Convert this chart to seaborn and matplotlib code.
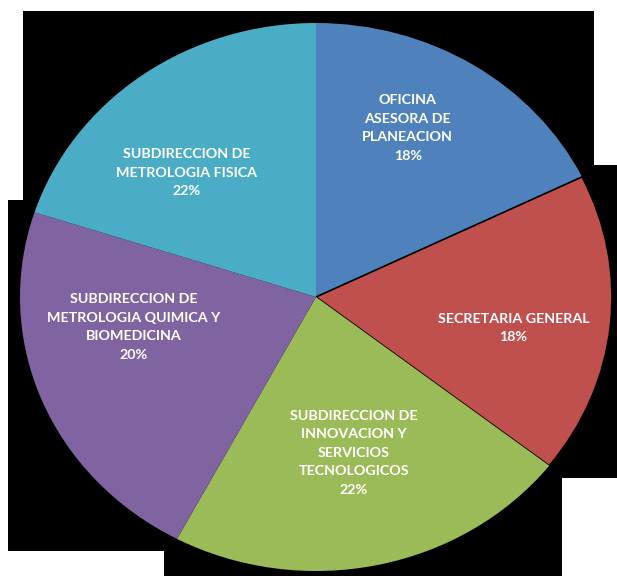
import numpy as np
import matplotlib
matplotlib.use("Agg")
import matplotlib.pyplot as plt
import seaborn as sns
from matplotlib.patches import Rectangle

areas = ["OFICINA\nASESORA DE\nPLANEACION",
         "SECRETARIA GENERAL",
         "SUBDIRECCION DE\nINNOVACION Y\nSERVICIOS\nTECNOLOGICOS",
         "SUBDIRECCION DE\nMETROLOGIA QUIMICA Y\nBIOMEDICINA",
         "SUBDIRECCION DE\nMETROLOGIA FISICA"]
counts = [8, 8, 10, 10, 9]
# percentages as printed on the chart
pct_labels = ["18%", "18%", "22%", "20%", "22%"]

colors = sns.color_palette(["#4F81BD", "#C0504D", "#9BBB59", "#8064A2", "#4BACC6"])

# label centres inside the (elliptic) pie, unit radius
label_pos = [(0.31, 0.617), (0.667, -0.113), (0.127, -0.569),
             (-0.615, -0.109), (-0.438, 0.453)]

sns.set_style("white")
plt.rcParams["font.family"] = ["Lato", "DejaVu Sans"]

W, H = 617, 576
fig = plt.figure(figsize=(W / 100, H / 100), dpi=100)
fig.patch.set_facecolor("white")

# black backdrop made of a few overlapping blocks (pixel coords, top-left origin)
blocks = [(23, 11, 594, 165), (23, 165, 617, 200), (8, 200, 617, 478),
          (8, 478, 562, 551), (164, 551, 562, 576)]
for x0, y0, x1, y1 in blocks:
    fig.patches.append(Rectangle((x0 / W, 1 - y1 / H), (x1 - x0) / W, (y1 - y0) / H,
                                 transform=fig.transFigure, facecolor="black",
                                 edgecolor="none", zorder=-5))

ax = fig.add_axes([20 / W, 5 / H, 592 / W, 548 / H])
ax.set_zorder(5)
ax.patch.set_alpha(0)
wedges, _ = ax.pie(counts, colors=colors, startangle=90, counterclock=False,
                   wedgeprops=dict(linewidth=0))
wedges[1].set_edgecolor("black")
wedges[1].set_linewidth(1.2)
ax.set_aspect("auto")
ax.set_xlim(-1, 1)
ax.set_ylim(-1, 1)
ax.axis("off")

for name, pct, (x, y) in zip(areas, pct_labels, label_pos):
    ax.text(x, y, f"{name}\n{pct}", ha="center", va="center", color="white",
            fontsize=10.3, fontweight="bold", linespacing=1.65)

fig.savefig("out.png", dpi=100, facecolor="white")
